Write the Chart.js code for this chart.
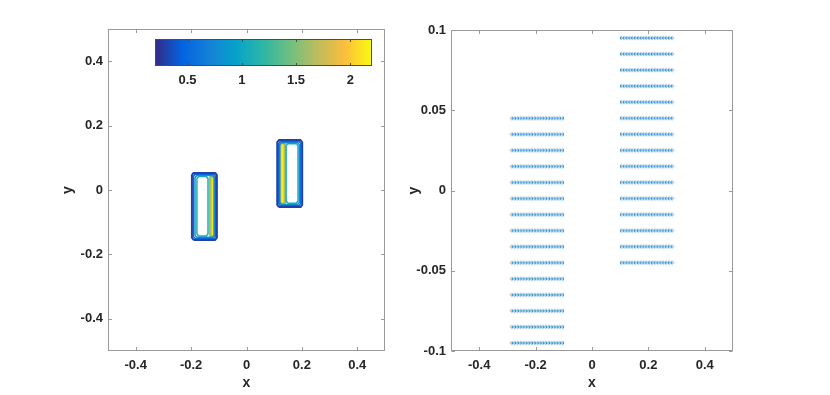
<!DOCTYPE html>
<html>
<head>
<meta charset="utf-8">
<script src="https://cdn.jsdelivr.net/npm/chart.js@4.4.0/dist/chart.umd.min.js"></script>
<style>
  html, body { margin: 0; padding: 0; background: #fff; }
  #wrap { position: relative; width: 830px; height: 395px; overflow: hidden; }
  canvas { position: absolute; top: 0; }
  #contourChart { left: 0; }
  #quiverChart { left: 400px; }
</style>
</head>
<body>
<div id="wrap">
  <canvas id="contourChart" width="415" height="395"></canvas>
  <canvas id="quiverChart" width="430" height="395"></canvas>
</div>
<script>
// tick labels
const contourXTicks = [-0.4, -0.2, 0, 0.2, 0.4];
const contourYTicks = [-0.4, -0.2, 0, 0.2, 0.4];
const quiverXTicks = [-0.4, -0.2, 0, 0.2, 0.4];
const quiverYTicks = [-0.1, -0.05, 0, 0.05, 0.1];
const colorbarTicks = [0.5, 1, 1.5, 2];
const colorbarRange = [0.2, 2.2];

// contour lines: level of each line and the box it traces
const contourLevels = [0.3, 0.5, 0.8, 1.1, 1.6, 1.9, 2.15];
const leftBoxX0 = [-0.197, -0.192, -0.186, -0.179, -0.132, -0.128, -0.125];
const leftBoxX1 = [-0.107, -0.112, -0.117, -0.139, -0.112, -0.115, -0.118];
const leftBoxY0 = [-0.155, -0.151, -0.147, -0.143, -0.147, -0.145, -0.143];
const leftBoxY1 = [0.053, 0.049, 0.045, 0.042, 0.045, 0.043, 0.041];
const rightBoxX0 = [0.111, 0.116, 0.120, 0.143, 0.119, 0.122, 0.125];
const rightBoxX1 = [0.201, 0.196, 0.191, 0.186, 0.140, 0.137, 0.134];
const rightBoxY0 = [-0.053, -0.049, -0.045, -0.041, -0.045, -0.043, -0.041];
const rightBoxY1 = [0.155, 0.151, 0.147, 0.144, 0.147, 0.145, 0.143];

// quiver grid
const quiverLeftX = [-0.29, -0.28, -0.27, -0.26, -0.25, -0.24, -0.23, -0.22, -0.21, -0.2,
  -0.19, -0.18, -0.17, -0.16, -0.15, -0.14, -0.13, -0.12, -0.11];
const quiverLeftY = [-0.095, -0.085, -0.075, -0.065, -0.055, -0.045, -0.035, -0.025,
  -0.015, -0.005, 0.005, 0.015, 0.025, 0.035, 0.045];
const quiverRightX = [0.11, 0.12, 0.13, 0.14, 0.15, 0.16, 0.17, 0.18, 0.19, 0.2,
  0.21, 0.22, 0.23, 0.24, 0.25, 0.26, 0.27, 0.28, 0.29];
const quiverRightY = [-0.045, -0.035, -0.025, -0.015, -0.005, 0.005, 0.015, 0.025,
  0.035, 0.045, 0.055, 0.065, 0.075, 0.085, 0.095];

const textColor = '#262626';
const tickFont = { family: "'Liberation Sans', Arial, sans-serif", size: 13, weight: 'bold' };
const titleFont = { family: "'Liberation Sans', Arial, sans-serif", size: 14, weight: 'bold' };

// parula colormap
const parulaStops = [
  [0, 53, 42, 135], [0.125, 3, 99, 225], [0.25, 20, 129, 214], [0.375, 6, 163, 202],
  [0.5, 46, 183, 164], [0.625, 113, 191, 128], [0.75, 190, 188, 92], [0.875, 252, 190, 61],
  [1, 249, 251, 14]
];
function parula(t) {
  t = Math.min(1, Math.max(0, t));
  for (let i = 1; i < parulaStops.length; i++) {
    const a = parulaStops[i - 1], b = parulaStops[i];
    if (t <= b[0]) {
      const f = (t - a[0]) / (b[0] - a[0]);
      const c = [1, 2, 3].map((k) => Math.round(a[k] + (b[k] - a[k]) * f));
      return `rgb(${c[0]},${c[1]},${c[2]})`;
    }
  }
}
const levelColor = (v) => parula((v - colorbarRange[0]) / (colorbarRange[1] - colorbarRange[0]));

const fmt = (v) => Number(v.toFixed(3)).toString();

// box with slightly cut corners, like the rounded contour ends
function boxPath(x0, x1, y0, y1) {
  const cx = Math.min(0.006, (x1 - x0) / 3);
  const cy = Math.min(0.007, (y1 - y0) / 3);
  return [
    { x: x0 + cx, y: y0 }, { x: x1 - cx, y: y0 }, { x: x1, y: y0 + cy }, { x: x1, y: y1 - cy },
    { x: x1 - cx, y: y1 }, { x: x0 + cx, y: y1 }, { x: x0, y: y1 - cy }, { x: x0, y: y0 + cy },
    { x: x0 + cx, y: y0 }
  ];
}

const contourDatasets = [];
[[leftBoxX0, leftBoxX1, leftBoxY0, leftBoxY1], [rightBoxX0, rightBoxX1, rightBoxY0, rightBoxY1]]
  .forEach(([x0, x1, y0, y1]) => {
    contourLevels.forEach((lev, i) => {
      contourDatasets.push({
        data: boxPath(x0[i], x1[i], y0[i], y1[i]),
        showLine: true,
        borderColor: levelColor(lev),
        borderWidth: i === 0 ? 2 : (i >= 4 ? 2.2 : 1.5),
        borderJoinStyle: 'round',
        pointRadius: 0,
        fill: false,
        tension: 0,
        order: i
      });
    });
  });

// box outline and inward ticks, matlab style
const boxPlugin = {
  id: 'matlabBox',
  afterDraw(chart) {
    const { ctx, chartArea: a, scales } = chart;
    const L = Math.round(a.left) + 0.5, R = Math.round(a.right) - 0.5;
    const T = Math.round(a.top) + 0.5, B = Math.round(a.bottom) - 0.5;
    ctx.save();
    ctx.strokeStyle = '#9a9a9a';
    ctx.lineWidth = 1;
    ctx.strokeRect(L, T, R - L, B - T);
    ctx.beginPath();
    scales.x.ticks.forEach((t) => {
      const px = Math.round(scales.x.getPixelForValue(t.value)) + 0.5;
      ctx.moveTo(px, B); ctx.lineTo(px, B - 3.5);
      ctx.moveTo(px, T); ctx.lineTo(px, T + 3.5);
    });
    scales.y.ticks.forEach((t) => {
      const py = Math.round(scales.y.getPixelForValue(t.value)) + 0.5;
      ctx.moveTo(L, py); ctx.lineTo(L + 3.5, py);
      ctx.moveTo(R, py); ctx.lineTo(R - 3.5, py);
    });
    ctx.stroke();
    ctx.restore();
  }
};

// colorbar placed inside the top of the contour axes
const colorbarPlugin = {
  id: 'colorbar',
  afterDraw(chart) {
    const { ctx } = chart;
    const x0 = 155, x1 = 372, y0 = 39, y1 = 66;
    const toPx = (v) => x0 + (v - colorbarRange[0]) / (colorbarRange[1] - colorbarRange[0]) * (x1 - x0);
    ctx.save();
    const g = ctx.createLinearGradient(x0, 0, x1, 0);
    parulaStops.forEach((s) => g.addColorStop(s[0], `rgb(${s[1]},${s[2]},${s[3]})`));
    ctx.fillStyle = g;
    ctx.fillRect(x0, y0, x1 - x0, y1 - y0);
    ctx.strokeStyle = '#4a4a4a';
    ctx.lineWidth = 1;
    ctx.strokeRect(x0 + 0.5, y0 + 0.5, x1 - x0 - 1, y1 - y0 - 1);
    ctx.beginPath();
    colorbarTicks.forEach((v) => {
      const px = Math.round(toPx(v)) + 0.5;
      ctx.moveTo(px, y1); ctx.lineTo(px, y1 - 3);
      ctx.moveTo(px, y0); ctx.lineTo(px, y0 + 3);
    });
    ctx.stroke();
    ctx.fillStyle = textColor;
    ctx.font = `bold ${tickFont.size}px ${tickFont.family}`;
    ctx.textAlign = 'center';
    ctx.textBaseline = 'middle';
    colorbarTicks.forEach((v) => ctx.fillText(fmt(v), toPx(v), 80));
    ctx.restore();
  }
};

function axisOptions(xTicks, yTicks, yMin, yMax, yBoxWidth, yTitlePad) {
  return {
    x: {
      type: 'linear', min: -0.5, max: 0.5,
      afterBuildTicks: (s) => { s.ticks = xTicks.map((v) => ({ value: v })); },
      afterFit: (s) => { s.height = 44; },
      grid: { display: false, drawTicks: false },
      border: { display: false },
      ticks: { padding: 7, font: tickFont, color: textColor, callback: fmt, maxRotation: 0, autoSkip: false },
      title: { display: true, text: 'x', font: titleFont, color: textColor, padding: { top: 0, bottom: 3.6 } }
    },
    y: {
      type: 'linear', min: yMin, max: yMax,
      afterBuildTicks: (s) => { s.ticks = yTicks.map((v) => ({ value: v })); },
      afterFit: (s) => { s.width = yBoxWidth; },
      grid: { display: false, drawTicks: false },
      border: { display: false },
      ticks: { padding: 5, font: tickFont, color: textColor, callback: fmt, autoSkip: false },
      title: { display: true, text: 'y', font: titleFont, color: textColor, padding: { top: yTitlePad, bottom: 0 } }
    }
  };
}

const commonOptions = {
  responsive: false,
  animation: false,
  devicePixelRatio: 1,
  plugins: { legend: { display: false }, tooltip: { enabled: false } }
};

new Chart(document.getElementById('contourChart'), {
  type: 'scatter',
  data: { datasets: contourDatasets },
  options: {
    ...commonOptions,
    layout: { padding: { top: 29, right: 30, left: 0, bottom: 0 } },
    scales: axisOptions(contourXTicks, contourYTicks, -0.5, 0.5, 108, 59.6)
  },
  plugins: [boxPlugin, colorbarPlugin]
});

// small arrow glyph, starting at the centre of the image and pointing right
function makeArrow() {
  const c = document.createElement('canvas');
  c.width = 12; c.height = 8;
  const g = c.getContext('2d');
  g.strokeStyle = 'rgba(0,114,189,0.85)';
  g.lineWidth = 0.8;
  g.beginPath();
  g.moveTo(5.5, 4); g.lineTo(8.8, 4);
  g.moveTo(7.6, 1.9); g.lineTo(8.8, 4); g.lineTo(7.6, 6.1);
  g.stroke();
  return c;
}
const arrowImg = makeArrow();

function gridPoints(xs, ys) {
  const pts = [];
  ys.forEach((y) => xs.forEach((x) => pts.push({ x, y })));
  return pts;
}

new Chart(document.getElementById('quiverChart'), {
  type: 'scatter',
  data: {
    datasets: [
      { data: gridPoints(quiverLeftX, quiverLeftY), pointStyle: arrowImg, rotation: 0, pointRadius: 2 },
      { data: gridPoints(quiverRightX, quiverRightY), pointStyle: arrowImg, rotation: 180, pointRadius: 2 }
    ]
  },
  options: {
    ...commonOptions,
    layout: { padding: { top: 30, right: 97, left: 0, bottom: 0 } },
    scales: axisOptions(quiverXTicks, quiverYTicks, -0.1, 0.1, 51, 5.6)
  },
  plugins: [boxPlugin]
});
</script>
</body>
</html>
